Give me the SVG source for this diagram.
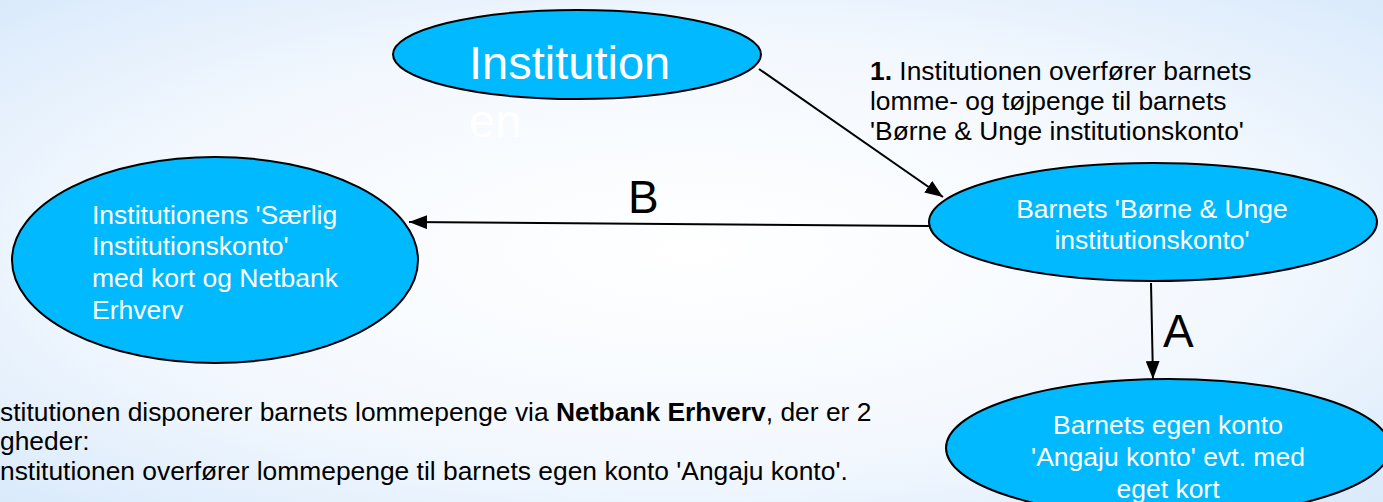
<svg xmlns="http://www.w3.org/2000/svg" width="1383" height="502" viewBox="0 0 1383 502">
  <defs>
    <radialGradient id="bg" cx="0.5" cy="0.5" r="0.75">
      <stop offset="0" stop-color="#ffffff"/>
      <stop offset="0.55" stop-color="#f3f8fe"/>
      <stop offset="1" stop-color="#d6e8fb"/>
    </radialGradient>
    <marker id="arr" markerUnits="userSpaceOnUse" markerWidth="18" markerHeight="14" refX="18" refY="7" orient="auto">
      <path d="M0,0 L18,7 L0,14 z" fill="#000"/>
    </marker>
    <style>
      .node { fill: #00B9FE; stroke: #000; stroke-width: 2; }
      .nt { font-family: "Liberation Sans", Arial, sans-serif; font-size: 26.5px; fill: #fff; }
      .lbl { font-family: "Liberation Sans", Arial, sans-serif; font-size: 26.4px; fill: #000; }
      .big { font-family: "Liberation Sans", Arial, sans-serif; font-size: 46px; fill: #000; }
      .conn { stroke: #000; stroke-width: 2; fill: none; marker-end: url(#arr); }
    </style>
  </defs>
  <rect x="0" y="0" width="1383" height="502" fill="url(#bg)"/>

  <g id="connectors">
    <line class="conn" x1="759" y1="69" x2="943" y2="197"/>
    <line class="conn" x1="929" y1="226" x2="409" y2="222"/>
    <line class="conn" x1="1151" y1="283" x2="1153" y2="379"/>
    <text class="lbl" x="870" y="80"><tspan font-weight="bold">1.</tspan> Institutionen overfører barnets</text>
    <text class="lbl" x="870" y="110">lomme- og tøjpenge til barnets</text>
    <text class="lbl" x="870" y="140">'Børne &amp; Unge institutionskonto'</text>
    <text class="big" x="628" y="213">B</text>
    <text class="big" x="1163" y="347">A</text>
  </g>

  <g id="institution">
    <ellipse class="node" cx="577" cy="54.5" rx="184" ry="44.5"/>
    <text class="nt" style="font-size:47px" x="469" y="79">Institution</text>
    <text class="nt" style="font-size:47px" x="469" y="137">en</text>
  </g>

  <g id="boerne-unge">
    <ellipse class="node" cx="1153" cy="222" rx="224" ry="59"/>
    <text class="nt" text-anchor="middle" x="1152" y="218">Barnets 'Børne &amp; Unge</text>
    <text class="nt" text-anchor="middle" x="1152" y="249">institutionskonto'</text>
  </g>

  <g id="saerlig">
    <ellipse class="node" cx="215" cy="260" rx="203" ry="103"/>
    <text class="nt" x="92" y="224">Institutionens 'Særlig</text>
    <text class="nt" x="92" y="255">Institutionskonto'</text>
    <text class="nt" x="92" y="287">med kort og Netbank</text>
    <text class="nt" x="92" y="319">Erhverv</text>
  </g>

  <g id="angaju">
    <ellipse class="node" cx="1168" cy="448" rx="222" ry="69"/>
    <text class="nt" text-anchor="middle" x="1168" y="434">Barnets egen konto</text>
    <text class="nt" text-anchor="middle" x="1168" y="466">'Angaju konto' evt. med</text>
    <text class="nt" text-anchor="middle" x="1168" y="498">eget kort</text>
  </g>

  <g id="note">
    <text class="lbl" x="0" y="421">stitutionen disponerer barnets lommepenge via <tspan font-weight="bold">Netbank Erhverv</tspan>, der er 2</text>
    <text class="lbl" x="0" y="450">gheder:</text>
    <text class="lbl" x="0" y="480">nstitutionen overfører lommepenge til barnets egen konto 'Angaju konto'.</text>
  </g>
</svg>
